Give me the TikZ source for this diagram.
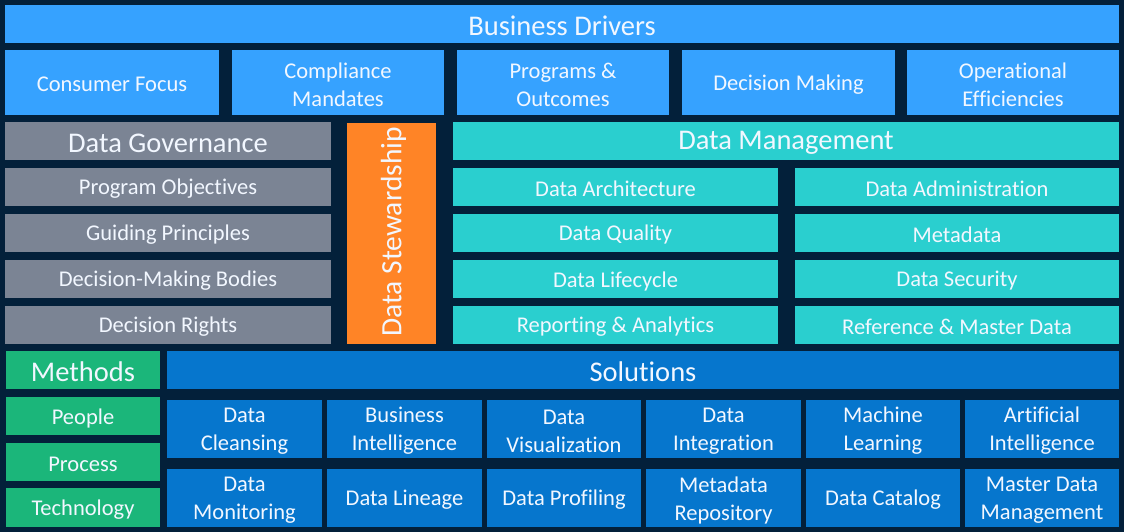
\documentclass[tikz,border=0pt]{standalone}
\usepackage{fontspec}
\setmainfont{Carlito}[Ligatures={NoCommon}]
\definecolor{bgc}{HTML}{03203A}
\definecolor{bdc}{HTML}{36A2FF}
\definecolor{gvc}{HTML}{7B8494}
\definecolor{orc}{HTML}{FF8426}
\definecolor{tlc}{HTML}{2ACFCF}
\definecolor{grc}{HTML}{1BB67A}
\definecolor{slc}{HTML}{0676CD}
\definecolor{txc}{HTML}{F2F7FF}
\newcommand\bx[7]{%
  \pgfmathsetmacro\bw{#4-#2}\pgfmathsetmacro\bh{#5-#3}%
  \node[#6, minimum width=\bw pt, minimum height=\bh pt] (#1) at ({(#2+#4)/2},{(#3+#5)/2}) {};
  \node[#6, fill=none] (#1-t) at ({(#2+#4)/2},{(#3+#5)/2+2}) {#7};}
\tikzset{
  base/.style={rectangle, inner sep=0pt, outer sep=0pt, text=txc, align=center},
  hd/.style={base, font=\fontsize{28.5}{32}\selectfont},
  it/.style={base, font=\fontsize{22.5}{28}\selectfont},
  bd/.style={fill=bdc}, gv/.style={fill=gvc}, tl/.style={fill=tlc},
  gr/.style={fill=grc}, sl/.style={fill=slc}
}
\begin{document}
\begin{tikzpicture}[x=1pt,y=-1pt]
\fill[bgc] (0,0) rectangle (1124,532);
\useasboundingbox (0,0) rectangle (1124,532);
% Business drivers
\bx{bdh}{5}{5}{1119}{43}{hd,bd}{Business Drivers}
\bx{b1}{5}{50}{219}{115}{it,bd}{Consumer Focus}
\bx{b2}{232}{50}{444}{115}{it,bd}{Compliance\\Mandates}
\bx{b3}{457}{50}{669}{115}{it,bd}{Programs \&\\Outcomes}
\bx{b4}{682}{50}{895}{115}{it,bd}{Decision Making}
\bx{b5}{907}{50}{1119}{115}{it,bd}{Operational\\Efficiencies}
% Governance
\bx{gh}{5}{122}{331}{160}{hd,gv}{Data Governance}
\bx{g1}{5}{168}{331}{206}{it,gv}{Program Objectives}
\bx{g2}{5}{214}{331}{252}{it,gv}{Guiding Principles}
\bx{g3}{5}{260}{331}{298}{it,gv}{Decision-Making Bodies}
\bx{g4}{5}{306}{331}{344}{it,gv}{Decision Rights}
% Stewardship
\node[base, fill=orc, minimum width=89pt, minimum height=221pt] (st) at (391.5,233.5) {};
\node[hd, rotate=90, font=\fontsize{29.5}{32}\selectfont] (st-t) at (393.5,232) {Data Stewardship};
% Data management
\bx{mh}{453}{122}{1119}{160}{hd,tl}{Data Management}
\bx{m1}{453}{168}{778}{206}{it,tl}{Data Architecture}
\bx{m2}{453}{214}{778}{252}{it,tl}{Data Quality}
\bx{m3}{453}{260}{778}{298}{it,tl}{Data Lifecycle}
\bx{m4}{453}{306}{778}{344}{it,tl}{Reporting \& Analytics}
\bx{m5}{795}{168}{1119}{206}{it,tl}{Data Administration}
\bx{m6}{795}{214}{1119}{252}{it,tl}{Metadata}
\bx{m7}{795}{260}{1119}{298}{it,tl}{Data Security}
\bx{m8}{795}{306}{1119}{344}{it,tl}{Reference \& Master Data}
% Methods
\bx{eh}{6}{351}{160}{389}{hd,gr}{Methods}
\bx{e1}{6}{397}{160}{435}{it,gr}{People}
\bx{e2}{6}{443}{160}{481}{it,gr}{Process}
\bx{e3}{6}{488}{160}{527}{it,gr}{Technology}
% Solutions
\bx{sh}{167}{351}{1119}{389}{hd,sl}{Solutions}
\bx{s1}{167}{400}{322}{458}{it,sl}{Data\\Cleansing}
\bx{s2}{327}{400}{482}{458}{it,sl}{Business\\Intelligence}
\bx{s3}{487}{400}{641}{458}{it,sl}{Data\\Visualization}
\bx{s4}{646}{400}{801}{458}{it,sl}{Data\\Integration}
\bx{s5}{806}{400}{960}{458}{it,sl}{Machine\\Learning}
\bx{s6}{965}{400}{1119}{458}{it,sl}{Artificial\\Intelligence}
\bx{s7}{167}{469}{322}{527}{it,sl}{Data\\Monitoring}
\bx{s8}{327}{469}{482}{527}{it,sl}{Data Lineage}
\bx{s9}{487}{469}{641}{527}{it,sl}{Data Profiling}
\bx{s10}{646}{469}{801}{527}{it,sl}{Metadata\\Repository}
\bx{s11}{806}{469}{960}{527}{it,sl}{Data Catalog}
\bx{s12}{965}{469}{1119}{527}{it,sl}{Master Data\\Management}
\end{tikzpicture}
\end{document}
